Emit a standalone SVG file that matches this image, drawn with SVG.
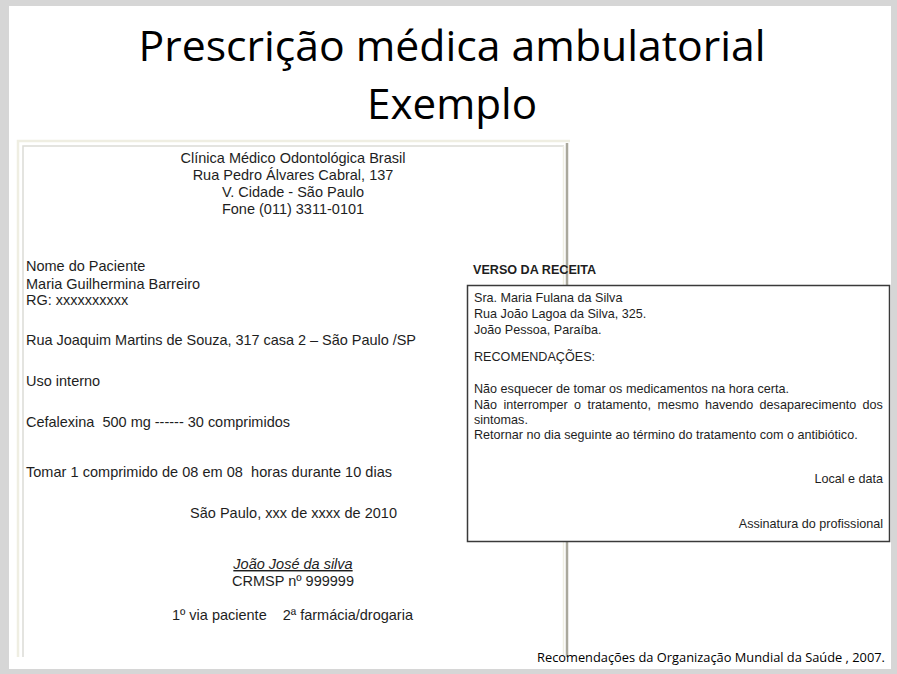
<svg xmlns="http://www.w3.org/2000/svg" width="897" height="674" viewBox="0 0 897 674">
<style>
.title{font-family:"Open Sans","Noto Sans","Liberation Sans",sans-serif;fill:#000;}
.doc{font-family:"Liberation Sans",Arial,sans-serif;font-size:14.5px;fill:#1e1e1e;white-space:pre;}
.box{font-family:"Liberation Sans",Arial,sans-serif;font-size:12.6px;fill:#1e1e1e;white-space:pre;}
.foot{font-family:"Open Sans","Noto Sans",sans-serif;font-size:12px;fill:#000;}
</style>
<rect x="0" y="0" width="897" height="674" fill="#d6d6d6"/>
<rect x="9" y="6" width="882" height="663" fill="#ffffff"/>
<g id="title">
<text class="title" x="452" y="61" font-size="42" text-anchor="middle" textLength="627" lengthAdjust="spacingAndGlyphs">Prescrição médica ambulatorial</text>
<text class="title" x="452" y="119" font-size="42" text-anchor="middle" textLength="170" lengthAdjust="spacingAndGlyphs">Exemplo</text>
</g>
<g id="prescription">
<g id="frame" fill="none">
<path d="M18 657 V141 H570" stroke="#efeee2" stroke-width="2.5"/>
<path d="M23 657 V146 H564" stroke="#dcdcd6" stroke-width="1.5"/>
<path d="M563.5 146 V657" stroke="#efeee2" stroke-width="1.5"/>
<path d="M567 143 V657" stroke="#aaa89c" stroke-width="2.5"/>
</g>
<text class="doc" x="293" y="163" text-anchor="middle">Clínica Médico Odontológica Brasil</text>
<text class="doc" x="293" y="180" text-anchor="middle">Rua Pedro Álvares Cabral, 137</text>
<text class="doc" x="293" y="197" text-anchor="middle">V. Cidade - São Paulo</text>
<text class="doc" x="293" y="214" text-anchor="middle">Fone (011) 3311-0101</text>
<text class="doc" x="26" y="271">Nome do Paciente</text>
<text class="doc" x="26" y="289">Maria Guilhermina Barreiro</text>
<text class="doc" x="26" y="305">RG: xxxxxxxxxx</text>
<text class="doc" x="26" y="345" textLength="390">Rua Joaquim Martins de Souza, 317 casa 2 – São Paulo /SP</text>
<text class="doc" x="26" y="386">Uso interno</text>
<text class="doc" x="26" y="427" textLength="264">Cefalexina  500 mg ------ 30 comprimidos</text>
<text class="doc" x="26" y="477" textLength="366">Tomar 1 comprimido de 08 em 08  horas durante 10 dias</text>
<text class="doc" x="190" y="518" textLength="207">São Paulo, xxx de xxxx de 2010</text>
<text class="doc" x="293" y="569" text-anchor="middle" font-style="italic" text-decoration="underline">João José da silva</text>
<text class="doc" x="293" y="586" text-anchor="middle">CRMSP nº 999999</text>
<text class="doc" x="172" y="620" textLength="241">1º via paciente    2ª farmácia/drogaria</text>
</g>
<g id="verso">
<text class="box" x="473" y="274" font-weight="bold" font-size="12.4">VERSO DA RECEITA</text>
<rect x="467.5" y="285.5" width="422" height="256" fill="#ffffff" stroke="#3a3a3a" stroke-width="1.5"/>
<text class="box" x="474" y="302">Sra. Maria Fulana da Silva</text>
<text class="box" x="474" y="318">Rua João Lagoa da Silva, 325.</text>
<text class="box" x="474" y="334">João Pessoa, Paraíba.</text>
<text class="box" x="474" y="361">RECOMENDAÇÕES:</text>
<text class="box" x="474" y="393">Não esquecer de tomar os medicamentos na hora certa.</text>
<text class="box" x="474" y="409" word-spacing="2.8">Não interromper o tratamento, mesmo havendo desaparecimento dos</text>
<text class="box" x="474" y="424">sintomas.</text>
<text class="box" x="474" y="439">Retornar no dia seguinte ao término do tratamento com o antibiótico.</text>
<text class="box" x="883" y="483" text-anchor="end">Local e data</text>
<text class="box" x="883" y="528" text-anchor="end">Assinatura do profissional</text>
</g>
<text class="foot" x="537" y="662" textLength="348" lengthAdjust="spacingAndGlyphs">Recomendações da Organização Mundial da Saúde , 2007.</text>
</svg>
